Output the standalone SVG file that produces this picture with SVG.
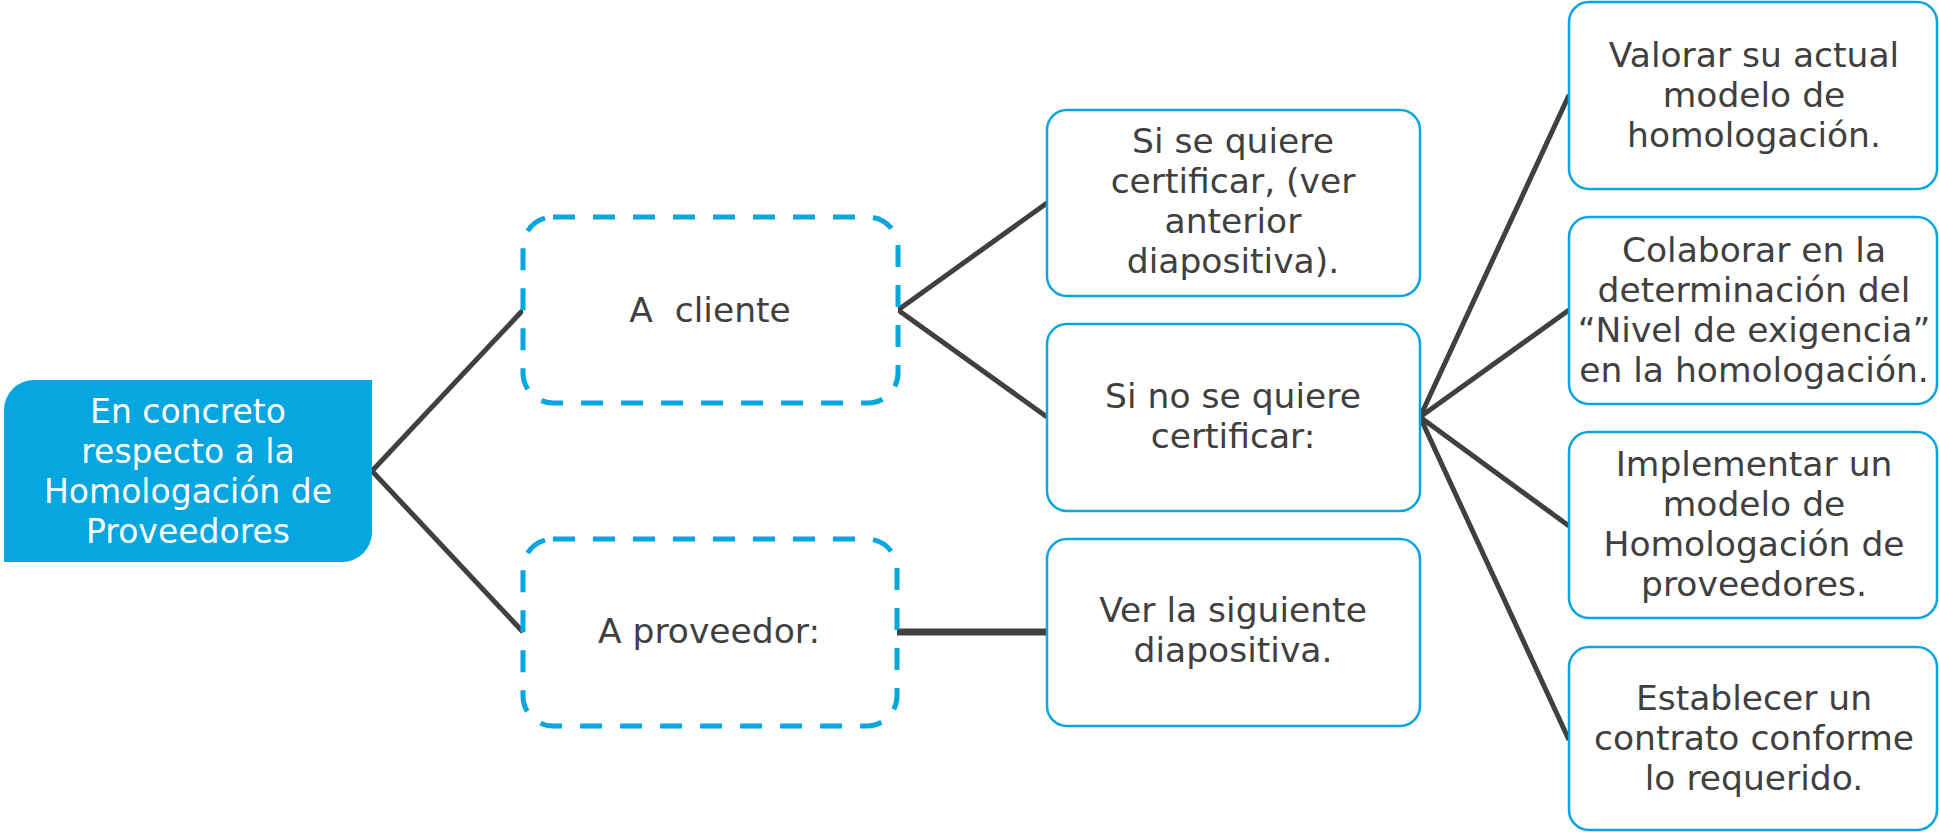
<svg xmlns="http://www.w3.org/2000/svg" width="1939" height="832" viewBox="0 0 1939 832">
<style>
.t{font-family:"DejaVu Sans","Liberation Sans",sans-serif;font-size:34.5px;fill:#404040;text-anchor:middle}
.rt{font-family:"DejaVu Sans","Liberation Sans",sans-serif;font-size:33px;fill:#ffffff;text-anchor:middle}
.box{fill:#ffffff;stroke:#0AA4E0;stroke-width:2.5}
.dash{fill:#ffffff;stroke:#06A6E1;stroke-width:5;stroke-dasharray:22 18}
.c{stroke:#404040;stroke-width:5;fill:none;stroke-linecap:butt}
</style>
<rect width="1939" height="832" fill="#ffffff"/>
<g id="connectors">
<line class="c" x1="372" y1="471" x2="523" y2="310"/>
<line class="c" x1="372" y1="471" x2="523" y2="632"/>
<line class="c" x1="898" y1="310" x2="1047" y2="203"/>
<line class="c" x1="898" y1="310" x2="1047" y2="417"/>
<line class="c" x1="897" y1="632" x2="1046" y2="632" style="stroke-width:7"/>
<line class="c" x1="1420" y1="417" x2="1569" y2="95"/>
<line class="c" x1="1420" y1="417" x2="1569" y2="310"/>
<line class="c" x1="1420" y1="417" x2="1569" y2="526"/>
<line class="c" x1="1420" y1="417" x2="1569" y2="740"/>
</g>
<g id="root">
<path d="M34 380 H372 V532 A30 30 0 0 1 342 562 H4 V410 A30 30 0 0 1 34 380 Z" fill="#06A6E0"/>
<text class="rt" x="188" y="423">En concreto</text>
<text class="rt" x="188" y="463">respecto a la</text>
<text class="rt" x="188" y="503">Homologación de</text>
<text class="rt" x="188" y="543">Proveedores</text>
</g>
<g id="a-cliente">
<rect class="dash" x="523" y="217" width="375" height="186" rx="30" ry="30"/>
<text class="t" x="710" y="322" xml:space="preserve">A  cliente</text>
</g>
<g id="a-proveedor">
<rect class="dash" x="523" y="539" width="374" height="187" rx="30" ry="30"/>
<text class="t" x="709" y="643">A proveedor:</text>
</g>
<g id="si-se-quiere">
<rect class="box" x="1047" y="110" width="373" height="186" rx="20" ry="20"/>
<text class="t" x="1233" y="153">Si se quiere</text>
<text class="t" x="1233" y="193">certificar, (ver</text>
<text class="t" x="1233" y="233">anterior</text>
<text class="t" x="1233" y="273">diapositiva).</text>
</g>
<g id="si-no-se-quiere">
<rect class="box" x="1047" y="324" width="373" height="187" rx="20" ry="20"/>
<text class="t" x="1233" y="408">Si no se quiere</text>
<text class="t" x="1233" y="448">certificar:</text>
</g>
<g id="ver-siguiente">
<rect class="box" x="1047" y="539" width="373" height="187" rx="20" ry="20"/>
<text class="t" x="1233" y="622">Ver la siguiente</text>
<text class="t" x="1233" y="662">diapositiva.</text>
</g>
<g id="valorar">
<rect class="box" x="1569" y="2" width="368" height="187" rx="20" ry="20"/>
<text class="t" x="1754" y="67">Valorar su actual</text>
<text class="t" x="1754" y="107">modelo de</text>
<text class="t" x="1754" y="147">homologación.</text>
</g>
<g id="colaborar">
<rect class="box" x="1569" y="217" width="368" height="187" rx="20" ry="20"/>
<text class="t" x="1754" y="262">Colaborar en la</text>
<text class="t" x="1754" y="302">determinación del</text>
<text class="t" x="1754" y="342">“Nivel de exigencia”</text>
<text class="t" x="1754" y="382">en la homologación.</text>
</g>
<g id="implementar">
<rect class="box" x="1569" y="432" width="368" height="186" rx="20" ry="20"/>
<text class="t" x="1754" y="476">Implementar un</text>
<text class="t" x="1754" y="516">modelo de</text>
<text class="t" x="1754" y="556">Homologación de</text>
<text class="t" x="1754" y="596">proveedores.</text>
</g>
<g id="establecer">
<rect class="box" x="1569" y="647" width="368" height="183" rx="20" ry="20"/>
<text class="t" x="1754" y="710">Establecer un</text>
<text class="t" x="1754" y="750">contrato conforme</text>
<text class="t" x="1754" y="790">lo requerido.</text>
</g>
</svg>
